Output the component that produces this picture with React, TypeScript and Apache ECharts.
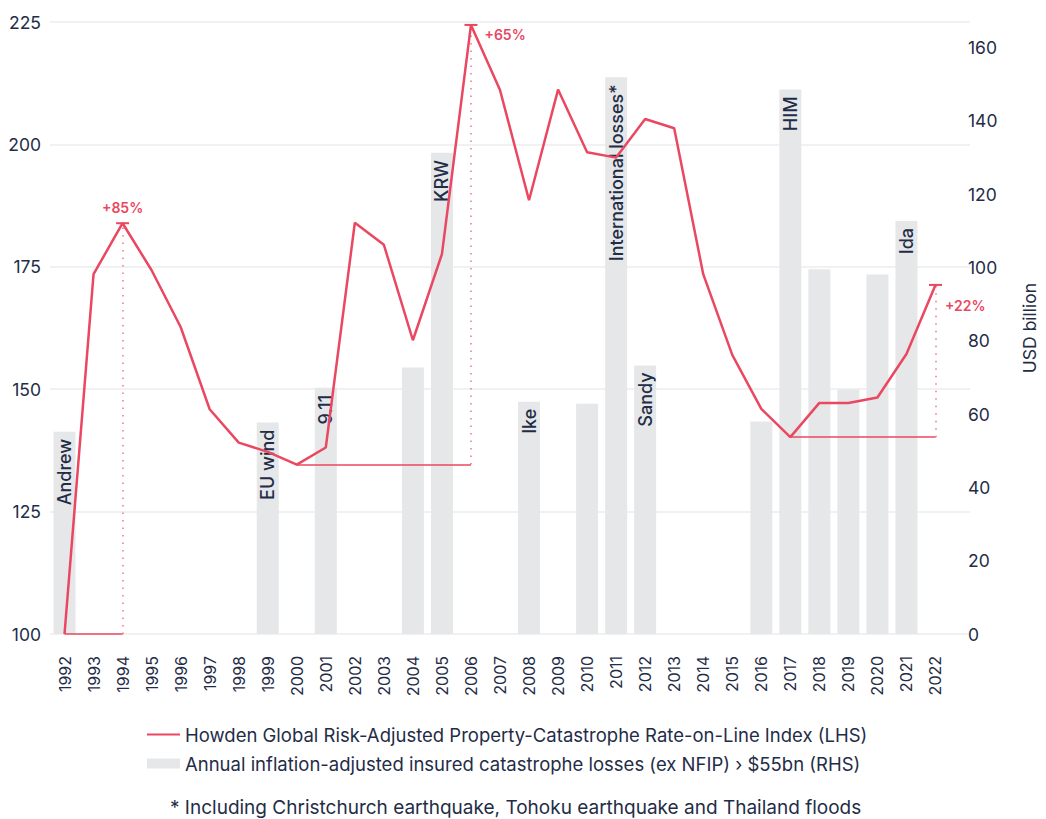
import React, { useEffect, useRef } from "react";
import * as echarts from "echarts";

const years = [
  "1992", "1993", "1994", "1995", "1996", "1997", "1998", "1999", "2000", "2001",
  "2002", "2003", "2004", "2005", "2006", "2007", "2008", "2009", "2010", "2011",
  "2012", "2013", "2014", "2015", "2016", "2017", "2018", "2019", "2020", "2021", "2022",
];

const rateIndex = [
  100, 173.5, 183.9, 174.3, 162.7, 145.9, 139.1, 137.2, 134.6, 138.1,
  184, 179.5, 160, 177.6, 224.4, 211.1, 188.6, 211.2, 198.4, 197.3,
  205.2, 203.3, 173.5, 157, 146, 140.2, 147.2, 147.2, 148.3, 157.2, 171.3,
];

const losses = [
  55.2, null, null, null, null, null, null, 57.7, null, 67.2,
  null, null, 72.7, 131.3, null, null, 63.4, null, 62.8, 151.9,
  73.3, null, null, null, 58, 148.6, 99.5, 66.7, 98.1, 112.7, null,
];

const eventYears = ["1992", "1999", "2001", "2005", "2008", "2011", "2012", "2017", "2021"];
const eventNames = ["Andrew", "EU wind", "9.11", "KRW", "Ike", "International losses*", "Sandy", "HIM", "Ida"];

const changeStartYears = ["1992", "2000", "2017"];
const changeEndYears = ["1994", "2006", "2022"];
const changeLabels = ["+85%", "+65%", "+22%"];

const leftMin = 100;
const leftMax = 225;
const leftStep = 25;
const rightMin = 0;
const rightMax = 167;
const rightStep = 20;

const lineName = "Howden Global Risk-Adjusted Property-Catastrophe Rate-on-Line Index (LHS)";
const barName = "Annual inflation-adjusted insured catastrophe losses (ex NFIP) \u203a $55bn (RHS)";
const footnote = "* Including Christchurch earthquake, Tohoku earthquake and Thailand floods";

const RED = "#ea4760";
const RED_LIGHT = "rgba(234,71,96,0.75)";
const DARK = "#1f2d47";
const FONT = "Inter, 'Noto Sans', sans-serif";

export default function App() {
  const ref = useRef<HTMLDivElement>(null);

  useEffect(() => {
    if (!ref.current) return;
    const chart = echarts.init(ref.current, null, { renderer: "svg" });

    const barData = losses.map((v, i) => {
      const k = eventYears.indexOf(years[i]);
      if (k < 0) return v;
      return {
        value: v,
        label: {
          show: true,
          formatter: eventNames[k],
        },
      };
    });

    const markLines: any[] = [];
    const markPoints: any[] = [];
    const labelCfg = [
      { position: "top", distance: 8, offset: [0, 0] },
      { position: "right", distance: 7, offset: [0, 10] },
      { position: "right", distance: 3, offset: [0, 21] },
    ];
    changeStartYears.forEach((s, i) => {
      const si = years.indexOf(s);
      const ei = years.indexOf(changeEndYears[i]);
      const base = rateIndex[si];
      const peak = rateIndex[ei];
      markLines.push([
        { coord: [si, base], lineStyle: { color: RED_LIGHT, width: 2, type: "solid" } },
        { coord: [ei, base] },
      ]);
      markLines.push([
        { coord: [ei, base], lineStyle: { color: RED_LIGHT, width: 1.5, type: [1.5, 6] } },
        { coord: [ei, peak] },
      ]);
      markPoints.push({
        coord: [ei, peak],
        symbol: "rect",
        symbolSize: [13, 2],
        itemStyle: { color: RED },
        label: {
          show: true,
          formatter: changeLabels[i],
          position: labelCfg[i].position,
          distance: labelCfg[i].distance,
          offset: labelCfg[i].offset,
          color: RED,
          fontSize: 14,
          fontWeight: 600,
          fontFamily: FONT,
        },
      });
    });

    chart.setOption({
      animation: false,
      textStyle: { fontFamily: FONT },
      title: {
        text: footnote,
        left: 165,
        top: 793,
        textStyle: { fontSize: 19, fontWeight: "normal", color: DARK, fontFamily: FONT },
      },
      legend: {
        orient: "vertical",
        left: 141,
        top: 720,
        itemWidth: 33,
        itemHeight: 10,
        itemGap: 10,
        textStyle: { fontSize: 18.5, color: DARK, fontFamily: FONT },
        data: [
          { name: lineName, itemStyle: { opacity: 0 } },
          { name: barName, icon: "rect" },
        ],
      },
      grid: [
        { left: 50, width: 912, top: 22, height: 612, containLabel: false },
        { left: 50, width: 920, top: 22, height: 612, containLabel: false },
      ],
      xAxis: [
        {
          type: "category",
          gridIndex: 0,
          data: years,
          axisLine: { show: false },
          axisTick: { show: false },
          axisLabel: { rotate: 90, fontSize: 16, color: DARK, margin: 22, fontFamily: FONT },
        },
        {
          type: "value",
          gridIndex: 1,
          min: 0,
          max: 1,
          show: false,
        },
      ],
      yAxis: [
        {
          type: "value",
          gridIndex: 0,
          min: leftMin,
          max: leftMax,
          interval: leftStep,
          axisLine: { show: false },
          axisTick: { show: false },
          axisLabel: { fontSize: 17.5, color: DARK, margin: 9, fontFamily: FONT },
          splitLine: { show: false },
        },
        {
          type: "value",
          gridIndex: 0,
          min: rightMin,
          max: rightMax,
          interval: rightStep,
          position: "right",
          name: "USD billion",
          nameLocation: "middle",
          nameRotate: 90,
          nameGap: 70,
          nameTextStyle: { fontSize: 17.5, color: DARK, fontFamily: FONT },
          axisLine: { show: false },
          axisTick: { show: false },
          axisLabel: { fontSize: 17.5, color: DARK, margin: 18, showMaxLabel: false, fontFamily: FONT },
          splitLine: { show: false },
        },
        {
          type: "value",
          gridIndex: 1,
          min: leftMin,
          max: leftMax,
          interval: leftStep,
          axisLine: { show: false },
          axisTick: { show: false },
          axisLabel: { show: false },
          splitLine: { show: true, lineStyle: { color: "#ececec", width: 1.5 } },
          z: 0,
        },
      ],
      series: [
        {
          name: barName,
          type: "bar",
          xAxisIndex: 0,
          yAxisIndex: 1,
          data: barData,
          barWidth: 22,
          itemStyle: { color: "#e6e7e9" },
          z: 1,
          label: {
            show: false,
            position: "insideTop",
            rotate: 90,
            align: "right",
            verticalAlign: "middle",
            distance: 7,
            fontSize: 18,
            fontWeight: 500,
            color: DARK,
            fontFamily: FONT,
          },
        },
        {
          name: lineName,
          type: "line",
          xAxisIndex: 0,
          yAxisIndex: 0,
          data: rateIndex,
          symbol: "none",
          z: 3,
          lineStyle: { color: RED, width: 2.5 },
          itemStyle: { color: RED },
          markLine: {
            silent: true,
            symbol: ["none", "none"],
            label: { show: false },
            data: markLines,
          },
          markPoint: {
            silent: true,
            data: markPoints,
          },
        },
      ],
    });

    return () => chart.dispose();
  }, []);

  return (
    <div
      ref={ref}
      style={{ position: "absolute", left: 0, top: 0, width: 1046, height: 819, background: "#fff" }}
    />
  );
}
